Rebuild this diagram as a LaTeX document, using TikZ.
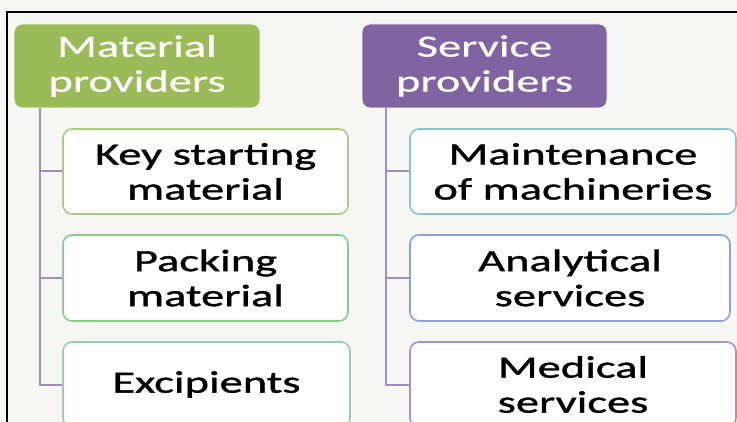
\documentclass[tikz,border=0pt]{standalone}
\usepackage{fontspec}
\setmainfont[FakeStretch=1.5]{Carlito}
\newfontfamily\heavyfont[FakeStretch=1.5, FakeBold=1.2]{Carlito}
\newfontfamily\midfont[FakeStretch=1.5, FakeBold=0.5]{Carlito}
\definecolor{bgc}{HTML}{F6F6F4}
\definecolor{hgreen}{HTML}{9BBB59}
\definecolor{hpurple}{HTML}{8064A2}
\definecolor{linec}{HTML}{A08DC4}
\definecolor{bksm}{HTML}{A9CD7E}
\definecolor{bpack}{HTML}{88CC8A}
\definecolor{bexc}{HTML}{8ED2B2}
\definecolor{bmaint}{HTML}{8DC3CE}
\definecolor{banal}{HTML}{8EA0D8}
\definecolor{bmed}{HTML}{A990CB}
\begin{document}
\begin{tikzpicture}[x=1pt,y=-1pt,
  txt/.style={align=center, inner sep=0pt},
  hdr/.style={txt, font=\midfont\fontsize{31}{35}\selectfont, rounded corners=8pt, draw=white, line width=0.8pt, minimum width=246pt, minimum height=84pt, text=white},
  kid/.style={txt, font=\heavyfont\fontsize{31}{35}\selectfont, rounded corners=9pt, fill=white, line width=1.6pt, minimum height=85pt, text=black},
  conn/.style={draw=linec, line width=2pt}]
\useasboundingbox (0,0) rectangle (737,422);
\fill[bgc] (0,0) rectangle (737,422);
\begin{scope}
\clip (0,0) rectangle (737,422);
\node[hdr, fill=hgreen] (mp) at (137,66) {Material\\providers};
\node[hdr, fill=hpurple, minimum width=245pt] (sp) at (484.5,66) {Service\\providers};
\node[kid, draw=bksm, minimum width=285pt] (ksm) at (205.5,171.5) {Key starting\\material};
\node[kid, draw=bpack, minimum width=285pt, minimum height=86pt] (pack) at (205.5,278) {Packing\\material};
\node[kid, draw=bexc, minimum width=287pt] (exc) at (206.5,384.5) {Excipients};
\node[kid, draw=bmaint, minimum width=326pt] (maint) at (573,171.5) {Maintenance\\of machineries};
\node[kid, draw=banal, minimum width=320pt, minimum height=86pt] (anal) at (570,278) {Analytical\\services};
\node[kid, draw=bmed, minimum width=326pt] (med) at (573,384.5) {Medical\\services};
\draw[conn] ([xshift=26pt]mp.south west) |- (ksm.west);
\draw[conn] ([xshift=26pt]mp.south west) |- (pack.west);
\draw[conn] ([xshift=26pt]mp.south west) |- (exc.west);
\draw[conn] ([xshift=24pt]sp.south west) |- (maint.west);
\draw[conn] ([xshift=24pt]sp.south west) |- (anal.west);
\draw[conn] ([xshift=24pt]sp.south west) |- (med.west);
\end{scope}
\draw[black, line width=1.2pt] (7,422) -- (7,12) -- (737,12);
\end{tikzpicture}
\end{document}
